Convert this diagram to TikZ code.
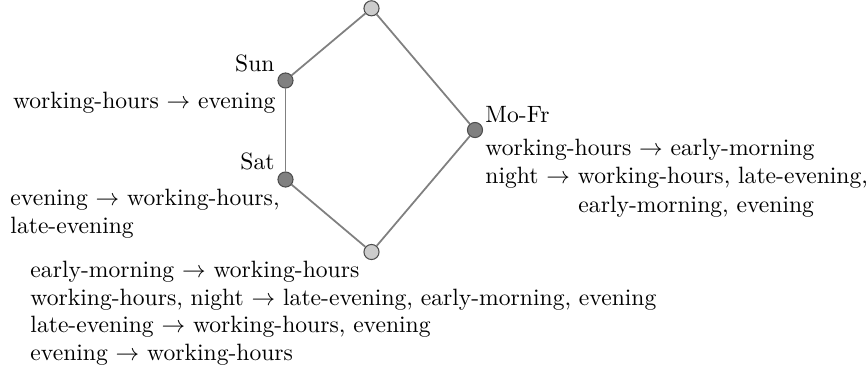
\documentclass[tikz,border=0pt]{standalone}
\begin{document}
\begin{tikzpicture}[x=0.4237pt,y=-0.4237pt,
  vtx/.style={circle,draw=black!70,line width=0.45pt,minimum size=6.4pt,inner sep=0pt},
  lightv/.style={vtx,fill=black!20},
  darkv/.style={vtx,fill=black!50},
  edge/.style={draw=black!50,line width=0.75pt},
  lblr/.style={inner sep=0pt,anchor=base east},
  lbll/.style={inner sep=0pt,anchor=base west}]
\useasboundingbox (0,0) rectangle (866,376);
\node[lightv] (top) at (371.5,8.3) {};
\node[darkv] (sun) at (285.5,80.5) {};
\node[darkv] (mofr) at (475,130) {};
\node[darkv] (sat) at (285.5,179.5) {};
\node[lightv] (bot) at (371.5,252) {};
\draw[edge] (top) -- (sun);
\draw[edge] (sun) -- (sat);
\draw[edge] (sat) -- (bot);
\draw[edge] (bot) -- (mofr);
\draw[edge] (mofr) -- (top);
% Sun
\node[lblr] (sunname) at (275,71.7) {Sun};
\node[lblr] (sun1) at (276,108) {working-hours $\to$ evening};
% Sat
\node[lblr] (satname) at (275,169.5) {Sat};
\node[lbll] (sat1) at (10,205) {evening $\to$ working-hours,};
\node[lbll] (sat2) at (10,233.3) {late-evening};
% Mo-Fr
\node[lbll] (mofrname) at (485,122.7) {Mo-Fr};
\node[lbll] (mofr1) at (485,155) {working-hours $\to$ early-morning};
\node[lbll] (mofr2) at (485,183.3) {night $\to$ working-hours, late-evening,};
\node[lbll] (mofr3) at (578,212) {early-morning, evening};
% bottom
\node[lbll] (bot1) at (30,277.3) {early-morning $\to$ working-hours};
\node[lbll] (bot2) at (30,305) {working-hours, night $\to$ late-evening, early-morning, evening};
\node[lbll] (bot3) at (30,332.7) {late-evening $\to$ working-hours, evening};
\node[lbll] (bot4) at (30,360) {evening $\to$ working-hours};
\end{tikzpicture}
\end{document}
